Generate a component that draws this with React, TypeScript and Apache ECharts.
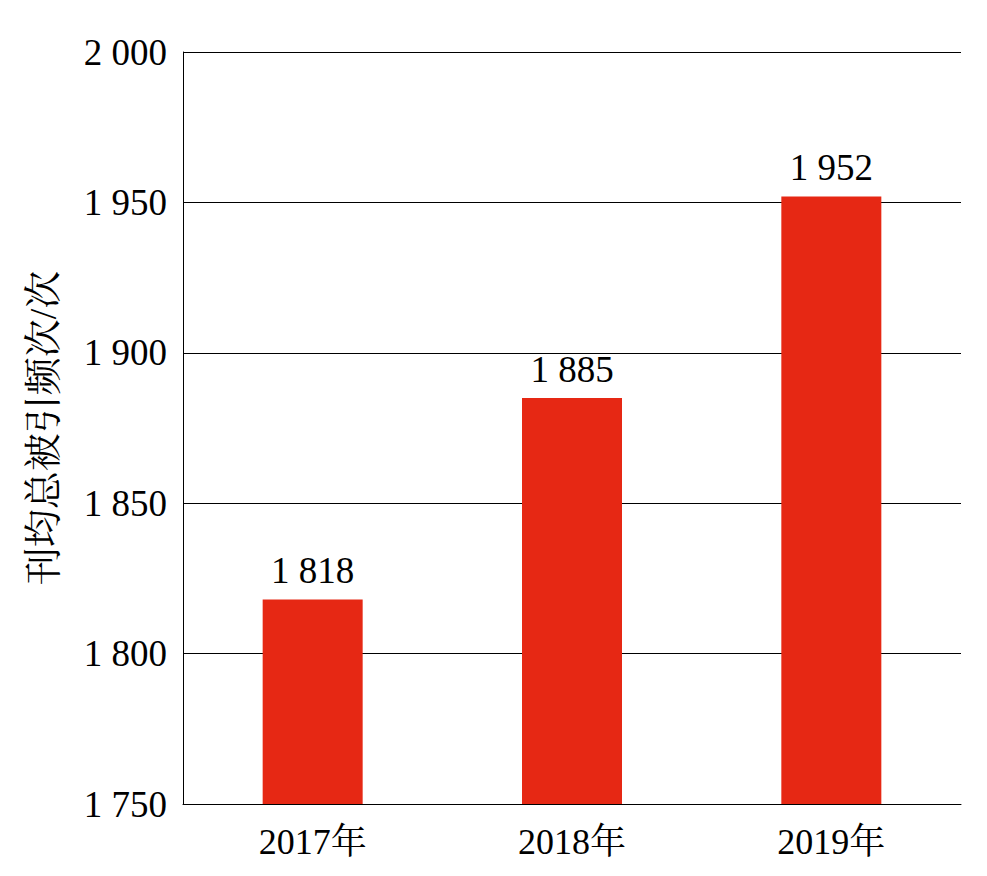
import React, { useEffect, useRef } from "react";
import * as echarts from "echarts";

const categories = ["2017年", "2018年", "2019年"];
const values = [1818, 1885, 1952];
const yMin = 1750;
const yMax = 2000;
const yInterval = 50;
const yAxisName = "刊均总被引频次/次";

const FONT = "Liberation Serif, Times New Roman, Noto Serif CJK SC, Noto Sans CJK SC, serif";

const fmt = (v: number) => {
  const s = String(Math.round(v));
  return s.replace(/\B(?=(\d{3})+(?!\d))/g, " ");
};

export default function App() {
  const ref = useRef<HTMLDivElement>(null);
  useEffect(() => {
    const chart = echarts.init(ref.current!, null, { renderer: "svg" });
    chart.setOption({
      animation: false,
      backgroundColor: "#ffffff",
      textStyle: { fontFamily: FONT },
      grid: { left: 183, right: 26, top: 52, bottom: 72, containLabel: false },
      xAxis: {
        type: "category",
        data: categories,
        axisLine: { show: true, lineStyle: { color: "#000", width: 1 } },
        axisTick: { show: false },
        axisLabel: { color: "#000", fontSize: 36, fontFamily: FONT, margin: 20 },
      },
      yAxis: {
        type: "value",
        min: yMin,
        max: yMax,
        interval: yInterval,
        name: yAxisName,
        nameLocation: "middle",
        nameRotate: 90,
        nameGap: 121,
        nameTextStyle: { color: "#000", fontSize: 38, fontFamily: FONT },
        axisLine: { show: true, lineStyle: { color: "#000", width: 1 } },
        axisTick: { show: false },
        splitLine: { show: true, lineStyle: { color: "#000", width: 1 } },
        axisLabel: { color: "#000", fontSize: 37, fontFamily: FONT, margin: 16, formatter: (v: number) => fmt(v) },
      },
      series: [
        {
          type: "bar",
          data: values,
          barWidth: 100,
          itemStyle: { color: "#E62814" },
          label: {
            show: true,
            position: "top",
            distance: 10,
            color: "#000",
            fontSize: 37,
            fontFamily: FONT,
            formatter: (p: any) => fmt(p.value),
          },
        },
      ],
    });
    return () => chart.dispose();
  }, []);
  return (
    <div
      ref={ref}
      style={{ position: "fixed", left: 0, top: 0, width: 987, height: 876 }}
    />
  );
}
